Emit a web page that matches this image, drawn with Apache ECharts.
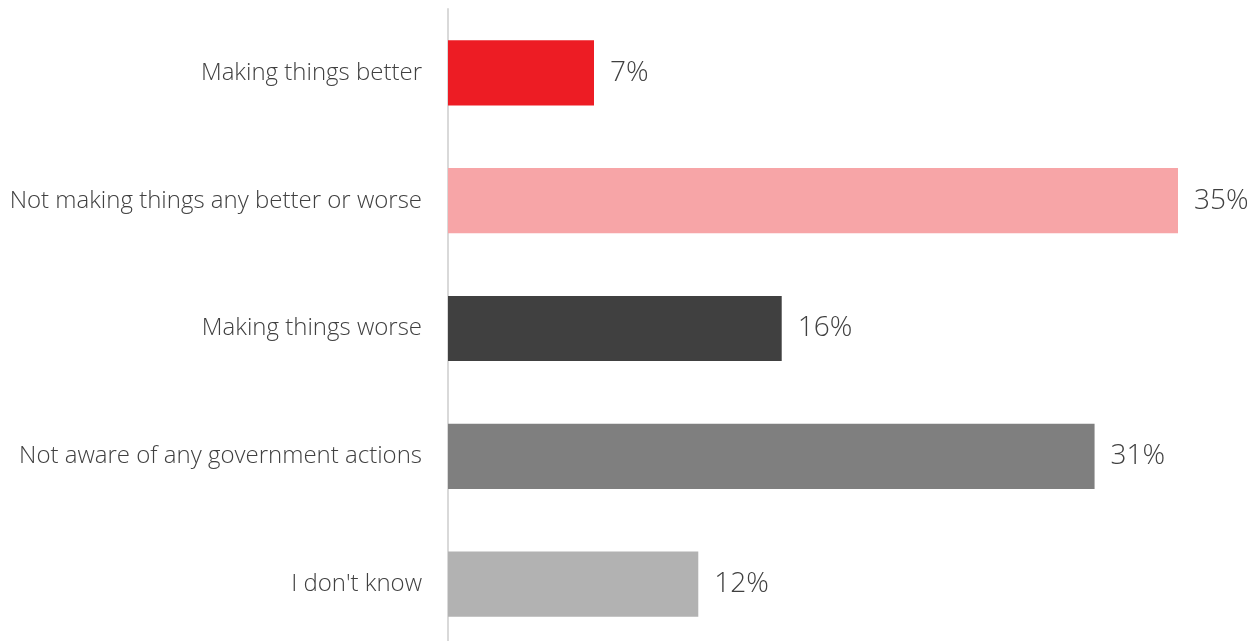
<!DOCTYPE html>
<html>
<head>
<meta charset="utf-8">
<script src="https://cdn.jsdelivr.net/npm/echarts@6/dist/echarts.min.js"></script>
<style>
  html, body { margin: 0; padding: 0; background: #ffffff; overflow: hidden; }
  #chart { width: 1251px; height: 660px; }
</style>
</head>
<body>
<div id="chart"></div>
<script>
// Survey responses, top to bottom
const categories = [
  'Making things better',
  'Not making things any better or worse',
  'Making things worse',
  'Not aware of any government actions',
  "I don't know"
];
const values = [7, 35, 16, 31, 12];
const barColors = ['#ed1c24', '#f7a5a7', '#404040', '#7f7f7f', '#b2b2b2'];

const chart = echarts.init(document.getElementById('chart'));
chart.setOption({
  animation: false,
  // the plot runs a little past the bottom edge of the page
  grid: { left: 448, right: 73, top: 9, height: 639, containLabel: false },
  xAxis: {
    type: 'value',
    min: 0,
    max: 35,
    show: false
  },
  yAxis: {
    type: 'category',
    inverse: true,
    data: categories,
    axisLine: { show: true, lineStyle: { color: '#d9d9d9', width: 2 } },
    axisTick: { show: false },
    axisLabel: {
      color: '#404040',
      fontFamily: 'Open Sans',
      fontWeight: 300,
      fontSize: 24,
      margin: 26
    }
  },
  series: [{
    type: 'bar',
    data: values.map((v, i) => ({ value: v, itemStyle: { color: barColors[i] } })),
    barCategoryGap: '49%',
    label: {
      show: true,
      position: 'right',
      distance: 16,
      formatter: '{c}%',
      color: '#404040',
      fontFamily: 'Open Sans',
      fontWeight: 300,
      fontSize: 28
    }
  }]
});
</script>
</body>
</html>
